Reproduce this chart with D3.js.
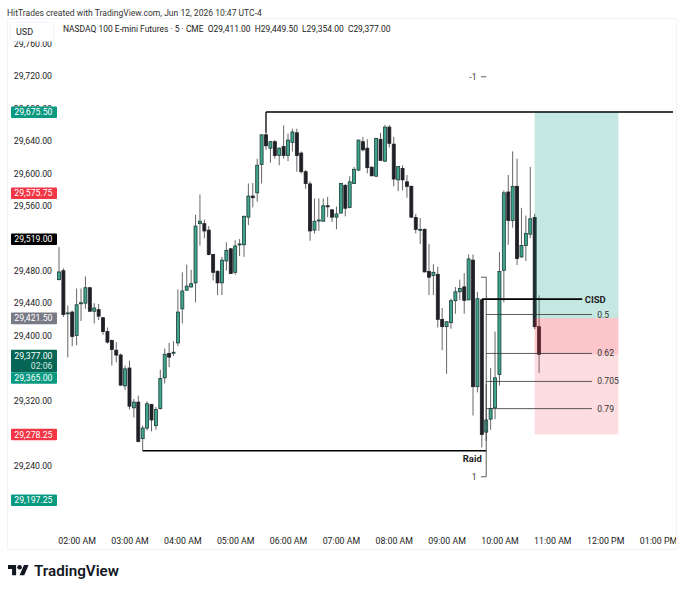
<!DOCTYPE html>
<html>
<head>
<meta charset="utf-8">
<script src="https://cdn.jsdelivr.net/npm/d3@7"></script>
<style>
  html, body { margin: 0; padding: 0; background: #fff; }
  text { font-family: Roboto, sans-serif; white-space: pre; }
</style>
</head>
<body>
<svg id="drawing_region"></svg>
<script>
var width = 680;
var height = 592;

// 5 minute bars, first one at 01:40
const firstBar = '2026-06-12T01:40';
const open = [
  29469,29480,29428,29429,29400,29440,29440,29459,29430,29432,
  29422,29405,29394,29382,29376,29338,29360,29311,29318,29273,
  29286,29315,29289,29310,29348,29378,29379,29391,29433,29456,
  29460,29465,29538,29538,29530,29500,29479,29465,29492,29507,
  29478,29512.5,29512,29546,29572,29576,29611,29647.5,29631,29639,
  29622,29633,29622,29638,29650,29625,29602,29587,29530,29542,
  29541,29560,29555,29546,29551,29585,29558,29587.5,29604,29639,
  29631,29607.5,29596.5,29642,29615,29657,29636,29592,29606,29589.5,
  29584,29545.5,29531,29531,29479,29474,29475.5,29420,29411,29416,
  29443,29454,29460,29444,29493,29337,29444,29281,29297,29311,
  29352,29480.5,29577,29542,29584,29497,29511,29525,29545.5,29411];
const close = [
  29478.5,29426,29428,29399,29438,29440.5,29459,29430,29434,29424,
  29405,29392,29383,29376,29339,29359,29313,29318,29269.5,29286,
  29316,29296,29309,29347,29377,29373.5,29379.5,29429,29455,29461,
  29464,29535,29541,29529,29500,29478,29465,29493,29505,29476.5,
  29510.5,29513,29547,29572,29570,29610,29647.5,29634,29639,29622,
  29631,29622,29641,29651,29622,29602,29587.5,29529,29541,29542.5,
  29560,29559,29546,29550,29587.5,29557,29589.5,29605,29641,29629,
  29607,29597,29643,29616,29657,29637,29593,29608.5,29592,29584,
  29546,29531,29531,29478.5,29472,29478,29420,29411,29417,29443,
  29454,29458,29443.5,29494.5,29337,29445.5,29278,29296,29310,29348,
  29479,29576,29542,29584,29495,29511,29526,29544,29411,29377];
const high = [
  29509,29483,29437,29431,29458,29458,29473,29460,29440,29439,
  29423,29410,29395,29392,29378,29363,29369,29322,29326,29289,
  29319,29316,29312,29358,29384,29391,29393,29457,29478,29487.5,
  29481,29549,29574,29543,29535,29500.5,29481,29497,29515,29508,
  29517.5,29519,29548,29587.5,29588,29618,29648,29675.5,29640,29641,
  29632,29659,29649,29655,29655,29627,29604,29590,29569,29569,
  29569,29571,29556,29559,29588,29587,29596.5,29608,29641.5,29645,
  29642,29609,29644,29650,29659.5,29659.5,29645,29609,29610,29598,
  29585,29550,29545,29532,29513,29488,29485,29434,29418,29445.5,
  29460,29469,29477,29500,29500,29454,29445,29340,29360,29405,
  29503,29579,29598,29627,29618,29557.5,29548,29608,29550,29449.5];
const low = [
  29468,29423,29373,29387,29388,29418,29433,29430,29415,29419,
  29401,29390,29363,29367,29338,29333,29309,29299,29268.5,29258,
  29283,29282,29284,29309,29341,29361,29375,29387,29415,29455,
  29459,29441,29511,29520,29499,29468,29450,29450,29480,29476,
  29475,29498,29497,29536,29558,29565,29587.5,29629,29613,29618,
  29610,29618,29615,29627,29602,29600,29581,29517,29526,29529,
  29541,29546,29540,29531,29551,29547,29557,29587,29603,29627,
  29600,29596.5,29595.5,29616,29614,29632,29584,29578,29579,29570,
  29545,29526,29513,29478,29450,29450,29410,29382,29353,29408.5,
  29427,29443.5,29427,29444,29301.5,29330,29262,29270,29284,29297,
  29338.5,29441,29512,29533,29487,29496,29492,29520,29408,29354];

// the ticks that sit fully behind a price tag are not visible in the picture
const priceTicks = [29760,29720,29680,29640,29600,29560,29480,29440,29400,29320,29240];
const timeTicks = ['02:00','03:00','04:00','05:00','06:00','07:00','08:00','09:00','10:00','11:00','12:00','13:00'];

const tagPrices = [29675.5,29575.75,29519,29421.5,29377,29365,29278.25,29197.25];
const tagColors = ['#089981','#f23645','#000000','#787b86','#056656','#089981','#f23645','#089981'];

const fibLevels = ['0.5','0.62','0.705','0.79'];
const fibPrices = [29426,29378,29343.5,29310];

const parseTime = d3.timeParse('%Y-%m-%dT%H:%M');
const at = t => parseTime('2026-06-12T' + t);

const bars = open.map((o, i) => ({
  time: d3.timeMinute.offset(parseTime(firstBar), i * 5),
  open: o, close: close[i], high: high[i], low: low[i]
}));

var svg = d3.select('#drawing_region')
      .attr('width', width)
      .attr('height', height)
      .style('display', 'block');

const xscale = d3.scaleTime()
      .domain([parseTime(firstBar), at('13:00')])
      .range([59, 658]);

const yscale = d3.scaleLinear()
      .domain([29720, 29240])
      .range([76, 465.4]);

const priceFormat = d3.format(',.2f');

svg.append('text').attr('x', 7).attr('y', 16)
      .attr('font-size', 8.55).attr('fill', '#333')
      .text('HitTrades created with TradingView.com, Jun 12, 2026 10:47 UTC-4');

// panel
svg.append('rect').attr('x', 7.5).attr('y', 18.5).attr('width', 669).attr('height', 531)
      .attr('fill', '#fff').attr('stroke', '#f0f3fa');

svg.append('clipPath').attr('id', 'panel')
      .append('rect').attr('x', 8).attr('y', 19).attr('width', 668).attr('height', 530);

const chart = svg.append('g').attr('clip-path', 'url(#panel)');

// axes
const yAxis = d3.axisLeft(yscale).tickValues(priceTicks).tickFormat(priceFormat).tickSize(0);
const xAxis = d3.axisBottom(xscale).tickValues(timeTicks.map(at))
      .tickFormat(d3.timeFormat('%I:%M %p')).tickSize(0);

const yg = chart.append('g').attr('transform', 'translate(52, 0)').call(yAxis);
yg.select('.domain').remove();
yg.selectAll('text').attr('font-size', 8.7).attr('font-family', 'Roboto, sans-serif').attr('fill', '#222').attr('x', 0);

const xg = chart.append('g').attr('transform', 'translate(0, 535)').call(xAxis);
xg.select('.domain').remove();
xg.selectAll('text').attr('font-size', 8.8).attr('font-family', 'Roboto, sans-serif').attr('fill', '#222');

// candles
const candle = chart.append('g').selectAll('g')
      .data(bars)
      .enter()
      .append('g');

candle.append('line')
      .attr('x1', d => xscale(d.time)).attr('x2', d => xscale(d.time))
      .attr('y1', d => yscale(d.high)).attr('y2', d => yscale(d.low))
      .attr('stroke', '#555').attr('stroke-width', 0.9);

candle.append('rect')
      .attr('x', d => xscale(d.time) - 1.5)
      .attr('width', 3)
      .attr('y', d => yscale(Math.max(d.open, d.close)))
      .attr('height', d => Math.max(1, Math.abs(yscale(d.open) - yscale(d.close))))
      .attr('fill', d => d.close >= d.open ? '#3fa58f' : '#1f1f26')
      .attr('stroke', d => d.close >= d.open ? '#1d3b36' : '#1f1f26')
      .attr('stroke-width', 0.8);

// position boxes, over the candles
function box(from, to, top, bottom, color, alpha) {
  chart.append('rect')
      .attr('x', xscale(at(from))).attr('width', xscale(at(to)) - xscale(at(from)))
      .attr('y', yscale(top)).attr('height', yscale(bottom) - yscale(top))
      .attr('fill', color).attr('fill-opacity', alpha);
}
box('10:40', '12:15', 29675.5, 29421.5, '#089981', 0.24);
box('10:40', '12:15', 29421.5, 29278.25, '#f23645', 0.17);
box('10:40', '12:15', 29421.5, 29377, '#f23645', 0.14);

// drawn lines
function seg(t1, p1, t2, p2, w, color) {
  chart.append('line')
      .attr('x1', xscale(at(t1))).attr('x2', xscale(at(t2)))
      .attr('y1', yscale(p1)).attr('y2', yscale(p2))
      .attr('stroke', color).attr('stroke-width', w);
}
seg('05:35', 29675.5, '13:17', 29675.5, 1.5, '#000');
seg('05:35', 29675.5, '05:35', 29650, 1, '#000');
seg('03:15', 29258, '09:45', 29258, 1.5, '#000');
seg('09:45', 29472, '09:45', 29226, 0.8, '#333');
seg('09:39', 29472, '09:45', 29472, 0.8, '#333');
seg('09:39', 29226, '09:45', 29226, 0.8, '#333');
seg('09:39', 29719, '09:45', 29719, 0.8, '#333');
seg('09:40', 29445, '11:34', 29445, 1.6, '#000');

fibLevels.forEach((level, i) => {
  seg('09:45', fibPrices[i], '11:45', fibPrices[i], 0.8, '#333');
  chart.append('text')
      .attr('x', xscale(at('11:51'))).attr('y', yscale(fibPrices[i]) + 3)
      .attr('font-size', 8.6).attr('fill', '#333')
      .text(level);
});

chart.append('text').attr('x', xscale(at('11:51'))).attr('y', yscale(29445) + 3.5)
      .attr('text-anchor', 'middle').attr('dx', -2)
      .attr('font-size', 9.5).attr('font-weight', 700).attr('fill', '#222').text('CISD');
chart.append('text').attr('x', xscale(at('09:40'))).attr('y', yscale(29248) + 3.5)
      .attr('text-anchor', 'end')
      .attr('font-size', 9.5).attr('font-weight', 700).attr('fill', '#222').text('Raid');
chart.append('text').attr('x', xscale(at('09:34'))).attr('y', yscale(29226) + 3)
      .attr('text-anchor', 'end').attr('font-size', 8.6).attr('fill', '#333').text('1');
chart.append('text').attr('x', xscale(at('09:34'))).attr('y', yscale(29719) + 3)
      .attr('text-anchor', 'end').attr('font-size', 8.6).attr('fill', '#333').text('-1');

// price tags, a tag that would overlap the one above it is pushed down
var lastBottom = 0;
tagPrices.forEach((price, i) => {
  const live = price === close[close.length - 1];
  const h = live ? 22.5 : 11.6;
  const top = Math.max(yscale(price) - (live ? 4.5 : 5.6), lastBottom);
  lastBottom = top + h;
  chart.append('rect').attr('x', 11).attr('y', top).attr('width', 46).attr('height', h)
      .attr('rx', 1).attr('fill', tagColors[i]);
  chart.append('text').attr('x', 52.5).attr('y', top + 8.9)
      .attr('text-anchor', 'end').attr('font-size', 8.7).attr('fill', '#fff')
      .text(priceFormat(price));
  if (live) {
    chart.append('text').attr('x', 52.5).attr('y', top + 19.5)
      .attr('text-anchor', 'end').attr('font-size', 8.7).attr('fill', '#d4e6e2')
      .text('02:06');
  }
});

// header inside the panel
svg.append('rect').attr('x', 10.5).attr('y', 22.5).attr('width', 43).attr('height', 18.5)
      .attr('rx', 2).attr('fill', '#fff').attr('stroke', '#f0f3fa');
svg.append('text').attr('x', 16).attr('y', 34.5).attr('font-size', 9).attr('fill', '#222').text('USD');
svg.append('text').attr('x', 63).attr('y', 32).attr('font-size', 8.45).attr('fill', '#222')
      .text('NASDAQ 100 E-mini Futures · 5 · CME  O29,411.00  H29,449.50  L29,354.00  C29,377.00');

// logo
const logo = svg.append('g').attr('transform', 'translate(8, 562.6) scale(0.58)').attr('fill', '#131722');
logo.append('path').attr('d', 'M14 22H7V11H0V4h14v18ZM28 22h-8l7.5-18h8L28 22Z');
logo.append('circle').attr('cx', 20).attr('cy', 8).attr('r', 4);
svg.append('text').attr('x', 34).attr('y', 576)
      .attr('font-family', 'Inter, sans-serif')
      .attr('font-size', 15.2).attr('font-weight', 600).attr('fill', '#131722').text('TradingView');
</script>
</body>
</html>
